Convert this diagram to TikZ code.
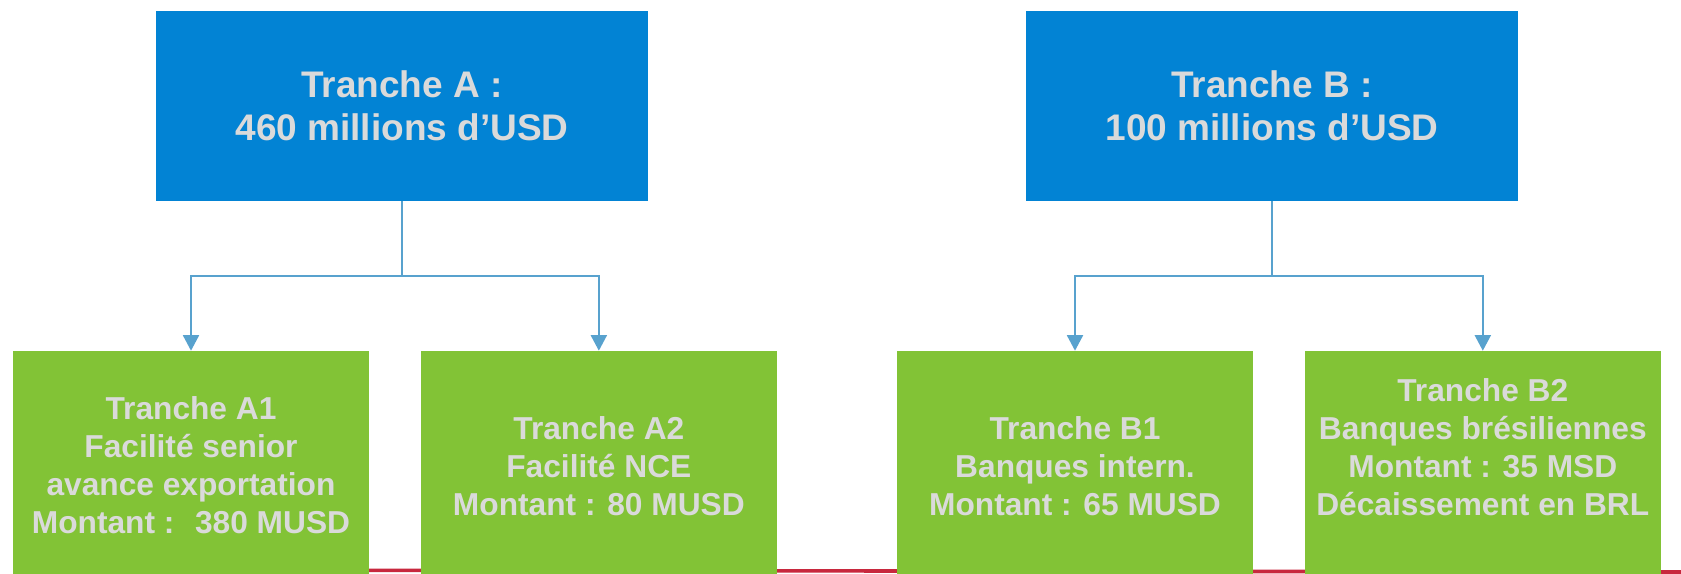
\documentclass[tikz,border=0pt]{standalone}
\usepackage{fontspec}
\setmainfont{Liberation Sans}
\usetikzlibrary{arrows.meta}
\definecolor{boxblue}{RGB}{2,131,212}
\definecolor{boxgreen}{RGB}{130,195,54}
\definecolor{txtgray}{RGB}{218,218,218}
\definecolor{linkblue}{RGB}{88,162,206}
\definecolor{redline}{RGB}{200,40,62}
\begin{document}
\begin{tikzpicture}[x=1pt,y=-1pt,
  bluebox/.style={fill=boxblue, draw=none, inner sep=0pt, minimum width=492pt, minimum height=189.7pt,
    font=\fontsize{37}{42.4}\selectfont\bfseries, text=txtgray, align=center},
  greenbox/.style={fill=boxgreen, draw=none, inner sep=0pt, minimum width=356pt, minimum height=240pt, anchor=north},
  greentext/.style={font=\fontsize{31.7}{38}\selectfont\bfseries, text=txtgray, align=center, inner sep=0pt},
  link/.style={draw=linkblue, line width=1.8pt},
  linkarrow/.style={link, -{Triangle[length=15.5pt,width=16pt]}},
  baseline/.style={draw=redline, line width=3.6pt}]
\useasboundingbox (0,0) rectangle (1681,573);
% bottom red rule (behind the green boxes)
\draw[baseline] (369,570.3) -- (1681,572);
% top boxes
\node[bluebox] (A) at (402,105.85) {Tranche A :\\460 millions d’USD};
\node[bluebox] (B) at (1272,105.85) {Tranche B :\\100 millions d’USD};
% lower boxes
\node[greenbox] (A1) at (191,350.7) {};
\node[greenbox] (A2) at (598.85,350.7) {};
\node[greenbox] (B1) at (1075,350.7) {};
\node[greenbox] (B2) at (1482.8,350.7) {};
% texts of lower boxes
\node[greentext] (tA1) at (191,464.7) {Tranche A1\\Facilité senior\\avance exportation\\Montant :~ 380 MUSD};
\node[greentext] (tA2) at (598.85,466.5) {Tranche A2\\Facilité NCE\\Montant : 80 MUSD};
\node[greentext] (tB1) at (1075,466) {Tranche B1\\Banques intern.\\Montant : 65 MUSD};
\node[greentext] (tB2) at (1482.8,447.3) {Tranche B2\\Banques brésiliennes\\Montant : 35 MSD\\Décaissement en BRL};
% connectors
\coordinate (Aj) at (402,276);
\coordinate (Bj) at (1272,276);
\draw[link] (A.south) -- (Aj);
\draw[linkarrow] (Aj) -| (A1.north);
\draw[linkarrow] (Aj) -| (A2.north);
\draw[link] (B.south) -- (Bj);
\draw[linkarrow] (Bj) -| (B1.north);
\draw[linkarrow] (Bj) -| (B2.north);
\end{tikzpicture}
\end{document}
